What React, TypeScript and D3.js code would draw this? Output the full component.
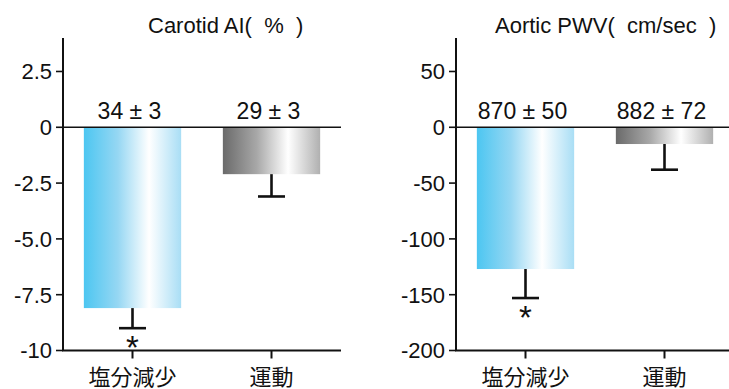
import * as d3 from "d3";

const categories = ["塩分減少", "運動"];

// change from baseline, with one-sided SE
const carotidChange = [-8.1, -2.1];
const carotidSe = [0.9, 1.0];
const carotidBaseline = ["34 ± 3", "29 ± 3"];
const carotidTicks = [2.5, 0, -2.5, -5, -7.5, -10];
const carotidTickLabels = ["2.5", "0", "-2.5", "-5.0", "-7.5", "-10"];

const pwvChange = [-127, -15];
const pwvSe = [26, 23];
const pwvBaseline = ["870 ± 50", "882 ± 72"];
const pwvTicks = [50, 0, -50, -100, -150, -200];
const pwvTickLabels = ["50", "0", "-50", "-100", "-150", "-200"];

const significant = [true, false];

const font = "'Liberation Sans', Arial, 'Noto Sans CJK JP', sans-serif";
const gradIds = ["gradBlue", "gradGray"];

function Panel({ x0, title, titleX, domain, values, se, baseline, ticks, tickLabels }) {
  const top = 38;
  const bottom = 350.5;
  const plotWidth = 278;

  const x = d3
    .scaleBand()
    .domain(categories)
    .range([x0, x0 + plotWidth])
    .paddingInner(0.3)
    .paddingOuter(0.15);

  const y = d3.scaleLinear().domain(domain).range([bottom, top]);
  const capHalf = 13.5;

  return (
    <g>
      <text x={titleX} y={33} fontSize={22} style={{ whiteSpace: "pre" }}>
        {title}
      </text>

      {categories.map((c, i) => {
        const cx = x(c) + x.bandwidth() / 2;
        const yEnd = y(values[i]);
        const yErr = y(values[i] - se[i]);
        return (
          <g key={c}>
            <rect
              x={x(c)}
              y={y(0)}
              width={x.bandwidth()}
              height={yEnd - y(0)}
              fill={`url(#${gradIds[i]})`}
            />
            <line x1={cx} x2={cx} y1={yEnd} y2={yErr} stroke="#111" strokeWidth={2.6} />
            <line x1={cx - capHalf} x2={cx + capHalf} y1={yErr} y2={yErr} stroke="#111" strokeWidth={2.6} />
            {significant[i] && (
              <text x={cx} y={yErr + 31} fontSize={33} textAnchor="middle">
                *
              </text>
            )}
            <text x={cx - 3} y={119} fontSize={23} textAnchor="middle">
              {baseline[i]}
            </text>
            <line x1={cx} x2={cx} y1={bottom} y2={bottom + 8} stroke="#111" strokeWidth={2} />
            <text
              x={cx}
              y={385}
              fontSize={22}
              textAnchor="middle"
              fontFamily="'Noto Sans CJK JP', sans-serif"
            >
              {c}
            </text>
          </g>
        );
      })}

      {/* zero line */}
      <line x1={x0} x2={x0 + plotWidth} y1={y(0)} y2={y(0)} stroke="#111" strokeWidth={1.6} />

      {/* y axis */}
      <line x1={x0} x2={x0} y1={top} y2={bottom} stroke="#111" strokeWidth={2} />
      {ticks.map((t, i) => (
        <g key={t}>
          <line x1={x0 - 7} x2={x0} y1={y(t)} y2={y(t)} stroke="#111" strokeWidth={1.6} />
          <text x={x0 - 11} y={y(t)} dy="0.36em" fontSize={22} textAnchor="end">
            {tickLabels[i]}
          </text>
        </g>
      ))}

      {/* x axis */}
      <line x1={x0 - 1} x2={x0 + plotWidth} y1={bottom} y2={bottom} stroke="#111" strokeWidth={2} />
    </g>
  );
}

export default function App() {
  return (
    <svg
      width={729}
      height={389}
      viewBox="0 0 729 389"
      style={{ position: "absolute", left: 0, top: 0, background: "#fff" }}
      fontFamily={font}
      fill="#111"
    >
      <defs>
        <linearGradient id="gradBlue" x1="0" x2="1" y1="0" y2="0">
          <stop offset="0" stopColor="#4cc6f1" />
          <stop offset="0.35" stopColor="#96d7f3" />
          <stop offset="0.67" stopColor="#ffffff" />
          <stop offset="1" stopColor="#a9def5" />
        </linearGradient>
        <linearGradient id="gradGray" x1="0" x2="1" y1="0" y2="0">
          <stop offset="0" stopColor="#6a6a6a" />
          <stop offset="0.35" stopColor="#a8a8a8" />
          <stop offset="0.67" stopColor="#ffffff" />
          <stop offset="1" stopColor="#b0b0b0" />
        </linearGradient>
      </defs>
      <rect width={729} height={389} fill="#fff" />
      <Panel
        x0={63}
        title="Carotid AI(  %  )"
        titleX={148}
        domain={[-10, 4]}
        values={carotidChange}
        se={carotidSe}
        baseline={carotidBaseline}
        ticks={carotidTicks}
        tickLabels={carotidTickLabels}
      />
      <Panel
        x0={456}
        title="Aortic PWV(  cm/sec  )"
        titleX={495}
        domain={[-200, 80]}
        values={pwvChange}
        se={pwvSe}
        baseline={pwvBaseline}
        ticks={pwvTicks}
        tickLabels={pwvTickLabels}
      />
    </svg>
  );
}
